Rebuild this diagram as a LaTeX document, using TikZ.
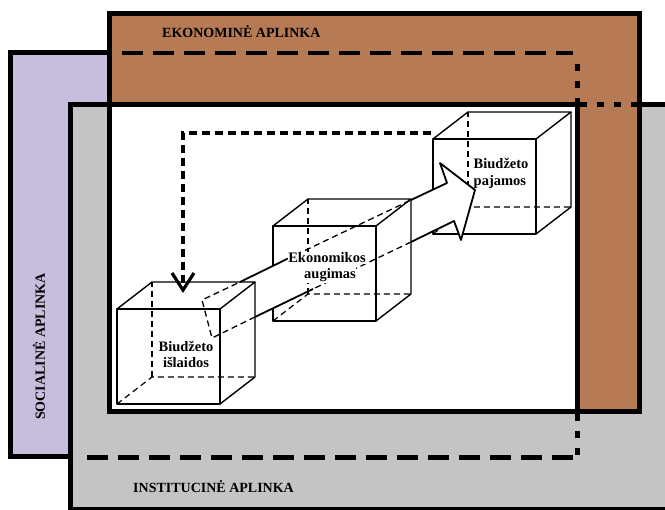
\documentclass[tikz,border=0pt]{standalone}
\usepackage{fontspec}
\setmainfont{Liberation Serif}
\usetikzlibrary{arrows.meta}

\definecolor{socialfill}{HTML}{C6BEDC}
\definecolor{econfill}{HTML}{B67A54}
\definecolor{instfill}{HTML}{C4C4C4}

\tikzset{
  zoneframe/.style={line width=5pt, line join=miter},
  heavydash/.style={line width=4.6pt, dash pattern=on 21pt off 10pt},
  dotline/.style={line width=5pt, dash pattern=on 7pt off 10pt},
  cubeedge/.style={line width=1.4pt, line join=round},
  cubehidden/.style={line width=1.2pt, dash pattern=on 6pt off 4pt},
  shaftedge/.style={line width=1.8pt, line join=round},
  shafthidden/.style={line width=1.3pt, dash pattern=on 6pt off 4pt},
  zonelabel/.style={font=\bfseries\fontsize{14}{16}\selectfont, inner sep=0pt},
  cubetext/.style={font=\bfseries\fontsize{14.5}{17}\selectfont, inner sep=0.5pt},
  feedback/.style={line width=3.2pt, dash pattern=on 8pt off 5pt}
}

% wireframe cube: front face 103 x 95, depth offset (35,-27)
\newcommand{\drawcube}[2]{%
  \begin{scope}[shift={(#1,#2)}]
    \draw[cubehidden] (0,0) -- (35,-27) -- (138,-27);
    \draw[cubehidden] (35,-27) -- (35,-122);
    \draw[cubeedge] (0,0) rectangle (103,-95);
    \draw[cubeedge] (0,-95) -- (35,-122) -- (138,-122) -- (103,-95);
    \draw[cubeedge] (138,-122) -- (138,-27) -- (103,0);
  \end{scope}}

\begin{document}
\begin{tikzpicture}[x=1pt,y=-1pt]
\useasboundingbox (0,0) rectangle (665,510);
\clip (0,0) rectangle (665,510);

% environments
\filldraw[fill=socialfill, zoneframe] (10.5,52.5) rectangle (577,457);
\filldraw[fill=instfill, zoneframe] (70.5,104.5) rectangle (720,509.5);
\filldraw[fill=econfill, zoneframe] (109.5,14) rectangle (639.5,411.5);
\filldraw[fill=white, zoneframe] (109.5,104.5) rectangle (577,411.5);

% borders running across the other environments
\draw[heavydash] (122,53) -- (573,53);
\draw[dotline] (577,64) -- (577,104);
\draw[dotline] (580,104.5) -- (640,104.5);
\draw[dotline] (577,414) -- (577,457);
\draw[heavydash] (573,457.5) -- (80,457.5);

\node[zonelabel, anchor=base west] (econ) at (162,38) {EKONOMINĖ APLINKA};
\node[zonelabel, anchor=base west, rotate=90] (social) at (45,420) {SOCIALINĖ APLINKA};
\node[zonelabel, anchor=base west] (inst) at (133,493) {INSTITUCINĖ APLINKA};

% cubes
\drawcube{117}{404}
\drawcube{273}{321}
\drawcube{433}{234}

% growth arrow
\coordinate (T1) at (202,300);
\coordinate (T2) at (212,338);
\coordinate (S1) at (447,183);
\coordinate (B1) at (440,163);
\coordinate (P)  at (475,190);
\coordinate (B2) at (461,240);
\coordinate (S2) at (454,221);
\coordinate (U1) at (240,282);
\coordinate (U2) at (287,259);
\coordinate (U3) at (411,200);
\coordinate (L1) at (255,317);
\coordinate (L2) at (313,289);
\coordinate (L3) at (411,242);

\begin{scope}
  \clip (256.5,0) rectangle (274.5,510);
  \fill[white] (T1) -- (S1) -- (B1) -- (P) -- (B2) -- (S2) -- (T2) -- cycle;
\end{scope}
\begin{scope}
  \clip (412,0) rectangle (500,510);
  \fill[white] (T1) -- (S1) -- (B1) -- (P) -- (B2) -- (S2) -- (T2) -- cycle;
\end{scope}

\draw[shafthidden] (L1) -- (T2) -- (T1) -- (U1);
\draw[shaftedge] (U1) -- (U2);
\draw[shafthidden] (U2) -- (U3);
\draw[shaftedge] (U3) -- (S1) -- (B1) -- (P) -- (B2) -- (S2) -- (L3);
\draw[shafthidden] (L3) -- (L2);
\draw[shaftedge] (L2) -- (L1);

% cube labels
\node[cubetext, anchor=base] (spend1) at (186,352) {Biudžeto};
\node[cubetext, anchor=base] (spend2) at (186,368) {išlaidos};
\node[cubetext, anchor=base, fill=white] (grow1) at (327,263) {Ekonomikos};
\node[cubetext, anchor=base, fill=white] (grow2) at (330,279) {augimas};
\node[cubetext, anchor=base west] (rev1) at (473,169) {Biudžeto};
\node[cubetext, anchor=base west] (rev2) at (473,186) {pajamos};

% feedback from revenue back to spending
\coordinate (fbstart) at (431,133);
\coordinate (fbend) at (183,293);
\draw[feedback, -{Straight Barb[length=17pt,width=22pt,line width=3.2pt]}] (fbstart) -| (fbend);
\end{tikzpicture}
\end{document}
